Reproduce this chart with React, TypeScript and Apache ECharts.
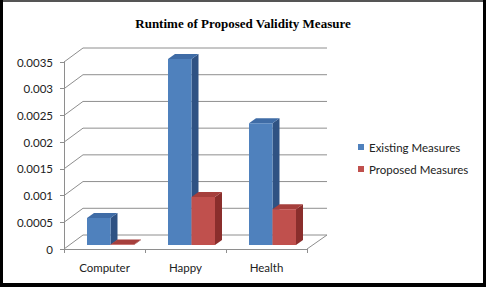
import React, { useEffect, useRef } from "react";
import * as echarts from "echarts";

const categories = ["Computer", "Happy", "Health"];
const existingMeasures = [0.000505, 0.00348, 0.00228];
const proposedMeasures = [0.00001, 0.0009, 0.00067];
const yTicks = [0, 0.0005, 0.001, 0.0015, 0.002, 0.0025, 0.003, 0.0035];
const seriesNames = ["Existing Measures", "Proposed Measures"];

const DX = 19;
const DY = 14;
const BAR_W = 23.5;
const SHIFT_X = 6;
const SHIFT_Y = 4;
const BD_X = 7;
const BD_Y = 5;

const palettes = [
  { front: "#4F81BD", side: "#2F5283", top: "#3F6CA6" },
  { front: "#C0504D", side: "#8A2E2C", top: "#A63F3C" },
];

function makeBarRender(si: number) {
  return (params: any, api: any) => {
    const idx = api.value(0);
    const val = api.value(1);
    const c = api.coord([idx, val]);
    const b = api.coord([idx, 0]);
    const x0 = si === 0 ? c[0] + SHIFT_X - BAR_W : c[0] + SHIFT_X;
    const x1 = x0 + BAR_W;
    const top = c[1] - SHIFT_Y;
    const bot = b[1] - SHIFT_Y;
    const p = palettes[si];
    return {
      type: "group",
      children: [
        {
          type: "polygon",
          shape: { points: [[x1, top], [x1 + BD_X, top - BD_Y], [x1 + BD_X, bot - BD_Y], [x1, bot]] },
          style: { fill: p.side },
        },
        {
          type: "polygon",
          shape: { points: [[x0, top], [x1, top], [x1 + BD_X, top - BD_Y], [x0 + BD_X, top - BD_Y]] },
          style: { fill: p.top },
        },
        {
          type: "rect",
          shape: { x: x0, y: top, width: BAR_W, height: Math.max(bot - top, 0) },
          style: { fill: p.front },
        },
      ],
    };
  };
}

function gridRender(params: any, api: any) {
  const cs = params.coordSys;
  const v = api.value(0);
  const y = api.coord([0, v])[1];
  const left = cs.x;
  const right = cs.x + cs.width;
  const stroke = { stroke: "#8E8E8E", lineWidth: 1 };
  const children: any[] = [
    { type: "line", shape: { x1: left, y1: y, x2: left + DX, y2: y - DY }, style: stroke },
    { type: "line", shape: { x1: left + DX, y1: y - DY, x2: right + DX + 1, y2: y - DY }, style: stroke },
  ];
  if (v === 0) {
    children.push({ type: "line", shape: { x1: right, y1: y, x2: right + DX + 1, y2: y - DY }, style: stroke });
  }
  return { type: "group", children };
}

export default function App() {
  const ref = useRef<HTMLDivElement>(null);
  useEffect(() => {
    if (!ref.current) return;
    const chart = echarts.init(ref.current, undefined, { renderer: "svg" });
    const font = "Lato, 'Liberation Sans', sans-serif";
    chart.setOption({
      animation: false,
      backgroundColor: "#ffffff",
      title: {
        text: "Runtime of Proposed Validity Measure",
        left: "center",
        top: 12,
        textStyle: { fontFamily: "'Liberation Serif', serif", fontWeight: "bold", fontSize: 13, color: "#000" },
      },
      legend: {
        orient: "vertical",
        left: 353,
        top: 136,
        icon: "rect",
        itemWidth: 6,
        itemHeight: 6,
        itemGap: 10,
        data: seriesNames,
        textStyle: { fontFamily: font, fontSize: 11.5, color: "#222" },
      },
      grid: { left: 64, right: 179, top: 62, bottom: 38 },
      xAxis: {
        type: "category",
        data: categories,
        axisLine: { lineStyle: { color: "#8E8E8E" } },
        axisTick: { show: true, length: 4, lineStyle: { color: "#8E8E8E" } },
        axisLabel: { fontFamily: font, fontSize: 11.5, color: "#222", margin: 12 },
        splitLine: { show: false },
      },
      yAxis: {
        type: "value",
        min: 0,
        max: 0.0035,
        interval: 0.0005,
        axisLine: { show: true, lineStyle: { color: "#8E8E8E" } },
        axisTick: { show: true, length: 4, lineStyle: { color: "#8E8E8E" } },
        axisLabel: {
          fontFamily: font,
          fontSize: 11.5,
          color: "#222",
          margin: 11,
          formatter: (v: number) => String(parseFloat(v.toFixed(5))),
        },
        splitLine: { show: false },
      },
      series: [
        {
          type: "custom",
          name: "grid3d",
          silent: true,
          renderItem: gridRender,
          data: yTicks.map((t) => [t]),
          encode: { y: 0 },
          z: 1,
        },
        {
          type: "custom",
          name: seriesNames[0],
          itemStyle: { color: palettes[0].front },
          renderItem: makeBarRender(0),
          data: existingMeasures.map((v, i) => [i, v]),
          encode: { x: 0, y: 1 },
          z: 2,
        },
        {
          type: "custom",
          name: seriesNames[1],
          itemStyle: { color: palettes[1].front },
          renderItem: makeBarRender(1),
          data: proposedMeasures.map((v, i) => [i, v]),
          encode: { x: 0, y: 1 },
          z: 3,
        },
      ],
      graphic: [
        { type: "rect", shape: { x: 0, y: 0, width: 486, height: 2 }, style: { fill: "#555" }, z: 100 },
        { type: "rect", shape: { x: 0, y: 0, width: 3, height: 287 }, style: { fill: "#000" }, z: 100 },
        { type: "rect", shape: { x: 483, y: 0, width: 3, height: 287 }, style: { fill: "#000" }, z: 100 },
        { type: "rect", shape: { x: 0, y: 283, width: 486, height: 4 }, style: { fill: "#000" }, z: 100 },
      ],
    });
    return () => chart.dispose();
  }, []);
  return (
    <div
      ref={ref}
      style={{ position: "fixed", left: 0, top: 0, width: 486, height: 287, background: "#fff" }}
    />
  );
}
